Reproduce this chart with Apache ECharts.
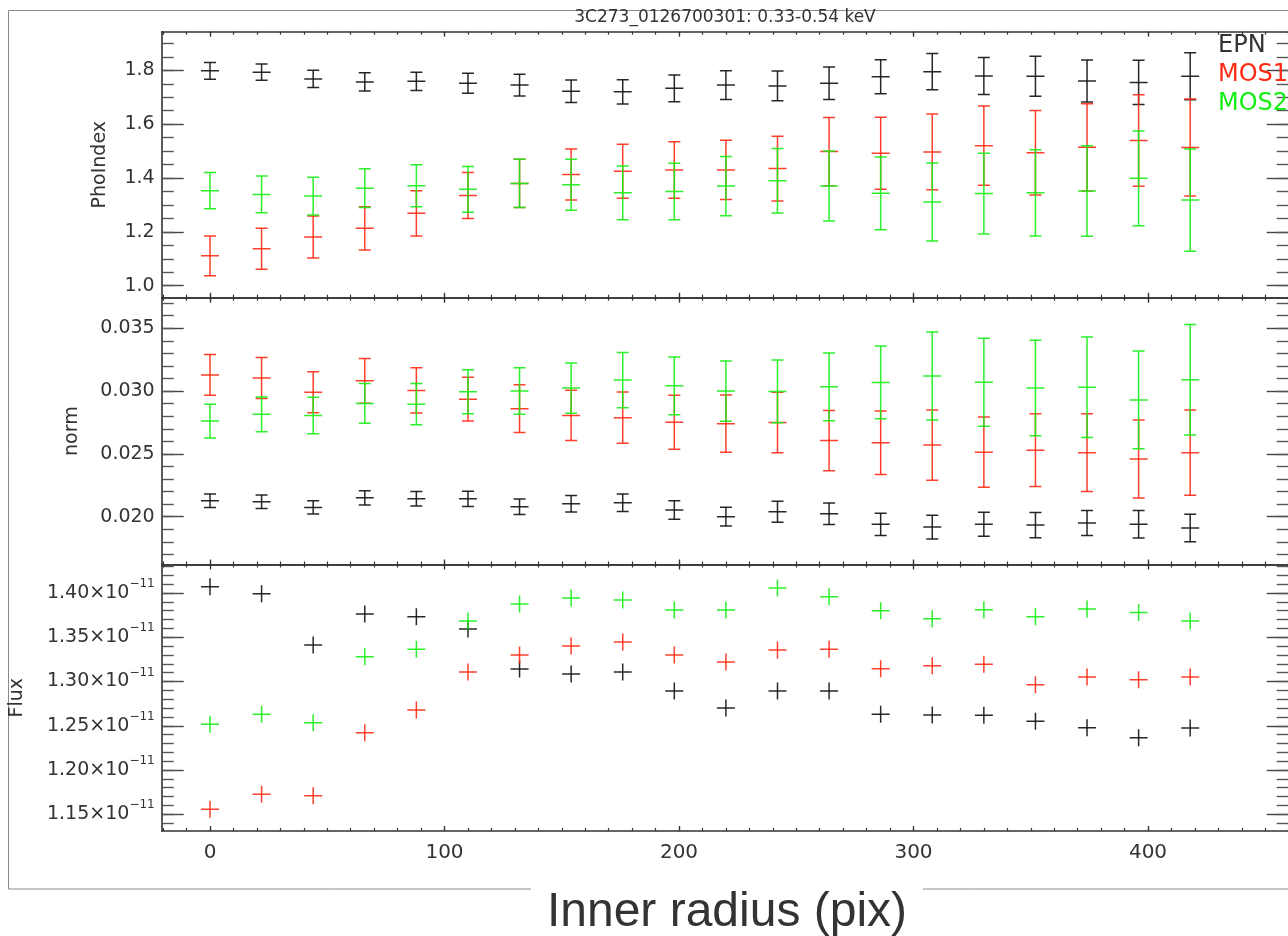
<!DOCTYPE html>
<html><head><meta charset="utf-8">
<script src="https://cdn.jsdelivr.net/npm/echarts@6/dist/echarts.min.js"></script>
<style>html,body{margin:0;padding:0;background:#fff}#c{width:1288px;height:936px}</style>
</head><body><div id="c"></div>
<script>
// ---------- data ----------
const titleText = '3C273_0126700301: 0.33-0.54 keV';
const xAxisTitle = 'Inner radius (pix)';
const seriesNames = ['EPN', 'MOS1', 'MOS2'];
const radius = [0,22,44,66,88,110,132,154,176,198,220,242,264,286,308,330,352,374,396,418];

const phoEPN     = [1.798,1.793,1.768,1.757,1.759,1.752,1.745,1.722,1.720,1.733,1.745,1.742,1.752,1.776,1.795,1.779,1.778,1.760,1.755,1.778];
const phoEPNErr  = [0.031,0.030,0.032,0.034,0.034,0.037,0.040,0.042,0.045,0.050,0.053,0.055,0.060,0.063,0.067,0.069,0.074,0.078,0.082,0.087];
const phoMOS1    = [1.111,1.137,1.181,1.213,1.269,1.335,1.380,1.413,1.425,1.430,1.430,1.435,1.498,1.492,1.497,1.520,1.494,1.514,1.539,1.513];
const phoMOS1Err = [0.074,0.076,0.078,0.080,0.084,0.085,0.090,0.095,0.100,0.105,0.110,0.120,0.127,0.134,0.141,0.147,0.157,0.162,0.170,0.180];
const phoMOS2    = [1.353,1.339,1.333,1.362,1.371,1.358,1.380,1.375,1.345,1.350,1.370,1.390,1.370,1.343,1.311,1.342,1.345,1.352,1.399,1.318];
const phoMOS2Err = [0.067,0.068,0.070,0.072,0.078,0.085,0.090,0.095,0.100,0.105,0.110,0.120,0.130,0.135,0.145,0.150,0.160,0.168,0.176,0.190];

const normEPN     = [0.02127,0.02119,0.02074,0.02150,0.02143,0.02142,0.02079,0.02103,0.02111,0.02053,0.02000,0.02039,0.02023,0.01939,0.01917,0.01940,0.01933,0.01950,0.01940,0.01910];
const normEPNErr  = [0.00053,0.00054,0.00053,0.00056,0.00057,0.00060,0.00062,0.00066,0.00070,0.00074,0.00075,0.00083,0.00086,0.00088,0.00095,0.00095,0.00100,0.00100,0.00110,0.00110];
const normMOS1    = [0.03129,0.03105,0.02991,0.03082,0.03005,0.02936,0.02860,0.02806,0.02788,0.02751,0.02741,0.02750,0.02606,0.02588,0.02570,0.02514,0.02530,0.02510,0.02459,0.02510];
const normMOS1Err = [0.00163,0.00163,0.00163,0.00178,0.00180,0.00175,0.00190,0.00200,0.00204,0.00215,0.00227,0.00240,0.00240,0.00253,0.00280,0.00280,0.00290,0.00310,0.00310,0.00340];
const normMOS2    = [0.02761,0.02815,0.02806,0.02902,0.02896,0.02995,0.03000,0.03024,0.03088,0.03042,0.03000,0.02997,0.03034,0.03069,0.03120,0.03070,0.03024,0.03030,0.02930,0.03090];
const normMOS2Err = [0.00135,0.00138,0.00145,0.00158,0.00164,0.00175,0.00185,0.00200,0.00220,0.00230,0.00240,0.00250,0.00270,0.00290,0.00350,0.00350,0.00380,0.00400,0.00390,0.00440];

// Flux in units of 1e-11
const fluxEPN  = [1.4071,1.3992,1.3412,1.3763,1.3732,1.3593,1.3141,1.3085,1.3107,1.2893,1.2700,1.2893,1.2893,1.2629,1.2621,1.2618,1.2550,1.2478,1.2365,1.2475];
const fluxMOS1 = [1.1556,1.1725,1.1710,1.2421,1.2678,1.3107,1.3300,1.3401,1.3446,1.3300,1.3220,1.3356,1.3364,1.3145,1.3179,1.3194,1.2964,1.3051,1.3020,1.3051];
const fluxMOS2 = [1.2516,1.2629,1.2534,1.3280,1.3364,1.3684,1.3876,1.3943,1.3921,1.3808,1.3808,1.4057,1.3958,1.3800,1.3710,1.3811,1.3732,1.3819,1.3781,1.3684];

// tick labels
const xTickLabels   = [0,100,200,300,400];
const phoTickLabels = [1.0,1.2,1.4,1.6,1.8];
const normTickLabels= [0.020,0.025,0.030,0.035];
const fluxTickLabels= [1.15,1.20,1.25,1.30,1.35,1.40];

// ---------- layout / style ----------
const colors = ['#111111', '#ff2a14', '#14ee14'];
const FONT = "'DejaVu Sans', sans-serif";
const TXT = '#333';
const gridLeft = 161.7, gridWidth = 1127;
const xMin = -20.6, xMax = 460;
const panels = [
  {top: 31.7, height: 266, min: 0.9554, max: 1.9434, major: phoTickLabels, minorStep: 0.05, minorFrom: 1.0, minorTo: 1.9, name: 'PhoIndex', nameGap: 52, fmt: v => v.toFixed(1)},
  {top: 297.7, height: 266.8, min: 0.016194, max: 0.037436, major: normTickLabels, minorStep: 0.001, minorFrom: 0.017, minorTo: 0.037, name: 'norm', nameGap: 80, fmt: v => v.toFixed(3)},
  {top: 564.5, height: 266.5, min: 1.1311, max: 1.4322, major: fluxTickLabels, minorStep: 0.01, minorFrom: 1.14, minorTo: 1.43, name: 'Flux', nameGap: 135, fmt: v => '{a|' + v.toFixed(2) + '×10}{b|−11}'}
];

function steps(from, to, step) {
  const out = [];
  const n = Math.round((to - from) / step);
  for (let i = 0; i <= n; i++) out.push(+(from + i * step).toFixed(6));
  return out;
}
const xMinor = steps(-20, 460, 10);

const grids = [], xAxes = [], yAxes = [], series = [];
const lineStyle = {color: '#333', width: 1.6};
const axLine = {show: true, onZero: false, lineStyle};
const noLine = {show: false, onZero: false};
panels.forEach((p, i) => {
  grids.push({left: gridLeft, width: gridWidth, top: p.top, height: p.height, containLabel: false, outerBoundsMode: 'none'});
  const xBase = {gridIndex: i, type: 'value', min: xMin, max: xMax, splitLine: {show: false}};
  const xi = xAxes.length;
  xAxes.push(Object.assign({}, xBase, {position: 'bottom', axisLine: axLine,
    axisTick: {show: true, inside: true, length: 5, customValues: xTickLabels, lineStyle: {color: '#333', width: 1.3}},
    axisLabel: {show: i === 2, customValues: xTickLabels, margin: 12, color: TXT, fontFamily: FONT, fontSize: 20}}));
  xAxes.push(Object.assign({}, xBase, {position: 'bottom', axisLine: noLine,
    axisTick: {show: true, inside: true, length: 3, customValues: xMinor, lineStyle: {color: '#333', width: 1.2}}, axisLabel: {show: false}}));
  xAxes.push(Object.assign({}, xBase, {position: 'top', axisLine: axLine,
    axisTick: {show: true, inside: true, length: 5, customValues: xTickLabels, lineStyle: {color: '#333', width: 1.3}}, axisLabel: {show: false}}));
  xAxes.push(Object.assign({}, xBase, {position: 'top', axisLine: noLine,
    axisTick: {show: true, inside: true, length: 3, customValues: xMinor, lineStyle: {color: '#333', width: 1.2}}, axisLabel: {show: false}}));

  const minor = steps(p.minorFrom, p.minorTo, p.minorStep);
  const yBase = {gridIndex: i, type: 'value', min: p.min, max: p.max, splitLine: {show: false}};
  const yi = yAxes.length;
  yAxes.push(Object.assign({}, yBase, {position: 'left', axisLine: axLine,
    name: p.name, nameLocation: 'middle', nameGap: p.nameGap, nameRotate: 90, nameMoveOverlap: false,
    nameTextStyle: {color: TXT, fontFamily: FONT, fontSize: 19},
    axisTick: {show: true, inside: true, length: 22, customValues: p.major, lineStyle: {color: '#444', width: 1.4}},
    axisLabel: {show: true, customValues: p.major, margin: 7, color: TXT, fontFamily: FONT, fontSize: 19, formatter: p.fmt,
      rich: {a: {color: TXT, fontFamily: FONT, fontSize: 19, lineHeight: 30}, b: {color: TXT, fontFamily: FONT, fontSize: 12, lineHeight: 14, verticalAlign: 'top'}}}}));
  yAxes.push(Object.assign({}, yBase, {position: 'left', axisLine: noLine,
    axisTick: {show: true, inside: true, length: 12, customValues: minor, lineStyle: {color: '#555', width: 1.4}}, axisLabel: {show: false}}));
  yAxes.push(Object.assign({}, yBase, {position: 'right', axisLine: axLine,
    axisTick: {show: true, inside: true, length: 22, customValues: p.major, lineStyle: {color: '#444', width: 1.4}}, axisLabel: {show: false}}));
  yAxes.push(Object.assign({}, yBase, {position: 'right', axisLine: noLine,
    axisTick: {show: true, inside: true, length: 12, customValues: minor, lineStyle: {color: '#555', width: 1.4}}, axisLabel: {show: false}}));
  p.xi = xi; p.yi = yi;
});

function errRender(color) {
  return function (params, api) {
    const x = api.value(0), y = api.value(1), e = api.value(2);
    const c = api.coord([x, y]);
    const t = api.coord([x, y + e]);
    const b = api.coord([x, y - e]);
    const st = {stroke: color, lineWidth: 1.5, opacity: 0.9};
    return {type: 'group', children: [
      {type: 'line', shape: {x1: c[0], y1: t[1], x2: c[0], y2: b[1]}, style: st},
      {type: 'line', shape: {x1: c[0] - 6, y1: t[1], x2: c[0] + 6, y2: t[1]}, style: st},
      {type: 'line', shape: {x1: c[0] - 6, y1: b[1], x2: c[0] + 6, y2: b[1]}, style: st},
      {type: 'line', shape: {x1: c[0] - 9, y1: c[1], x2: c[0] + 9, y2: c[1]}, style: st}
    ]};
  };
}
function crossRender(color) {
  return function (params, api) {
    const c = api.coord([api.value(0), api.value(1)]);
    const st = {stroke: color, lineWidth: 1.5, opacity: 0.9};
    return {type: 'group', children: [
      {type: 'line', shape: {x1: c[0], y1: c[1] - 8.5, x2: c[0], y2: c[1] + 8.5}, style: st},
      {type: 'line', shape: {x1: c[0] - 9, y1: c[1], x2: c[0] + 9, y2: c[1]}, style: st}
    ]};
  };
}
const errSets = [
  [[phoEPN, phoEPNErr], [phoMOS1, phoMOS1Err], [phoMOS2, phoMOS2Err]],
  [[normEPN, normEPNErr], [normMOS1, normMOS1Err], [normMOS2, normMOS2Err]]
];
errSets.forEach((sets, pi) => {
  sets.forEach((s, k) => {
    series.push({type: 'custom', name: seriesNames[k], xAxisIndex: panels[pi].xi, yAxisIndex: panels[pi].yi, clip: true,
      renderItem: errRender(colors[k]), data: radius.map((r, j) => [r, s[0][j], s[1][j]]), z: 3 + k});
  });
});
[fluxEPN, fluxMOS1, fluxMOS2].forEach((s, k) => {
  series.push({type: 'custom', name: seriesNames[k], xAxisIndex: panels[2].xi, yAxisIndex: panels[2].yi, clip: true,
    renderItem: crossRender(colors[k]), data: radius.map((r, j) => [r, s[j]]), z: 3 + k});
});

const legendY = [46.2, 75, 103.7];
const graphic = [
  {type: 'rect', z: -10, shape: {x: 8.5, y: 10.5, width: 1300, height: 878.5}, style: {fill: 'none', stroke: '#8a8a8a', lineWidth: 1}},
  {type: 'text', z: 10, x: 725, y: 17.2, style: {text: titleText, font: "17px 'DejaVu Sans'", fill: TXT, align: 'center', verticalAlign: 'middle'}},
  {type: 'text', z: 10, x: 727, y: 913, style: {text: xAxisTitle, font: "48px 'Liberation Sans'", fill: '#333', align: 'center', verticalAlign: 'middle', backgroundColor: '#fff', padding: [2, 16]}}
].concat(seriesNames.map((n, k) => ({type: 'text', z: 10, x: 1218, y: legendY[k],
  style: {text: n, font: "24px 'DejaVu Sans'", fill: k === 0 ? '#333' : colors[k], align: 'left', verticalAlign: 'middle'}})));

const chart = echarts.init(document.getElementById('c'), null, {renderer: 'canvas'});
chart.setOption({
  animation: false,
  backgroundColor: '#fff',
  grid: grids, xAxis: xAxes, yAxis: yAxes, series: series, graphic: graphic
});
</script></body></html>
